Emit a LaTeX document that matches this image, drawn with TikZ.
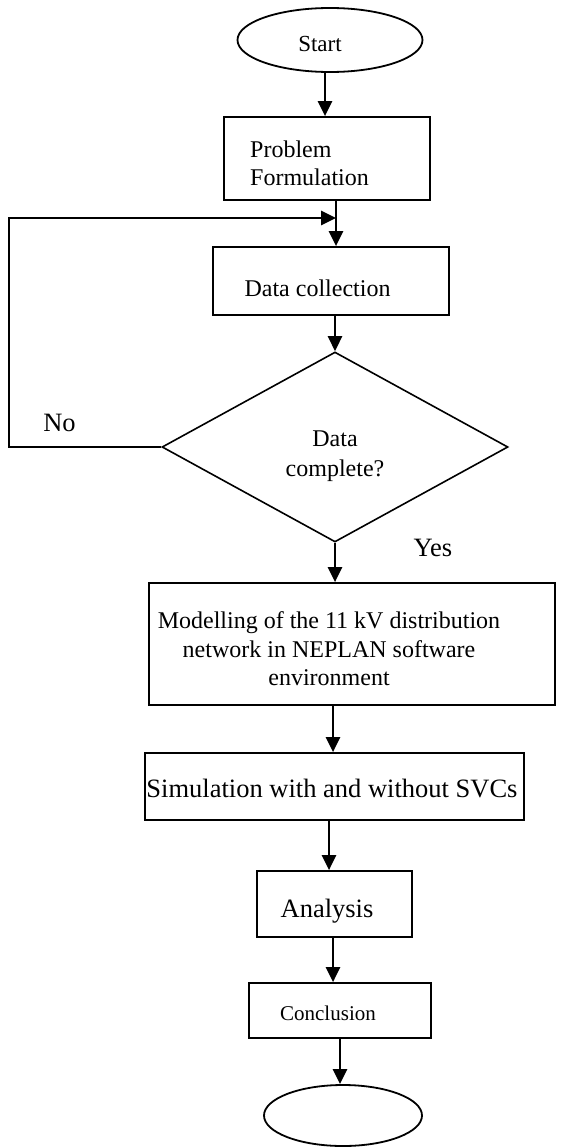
\documentclass[tikz,border=0pt]{standalone}
\usepackage{fontspec}
\setmainfont{Liberation Serif}
\usetikzlibrary{arrows.meta,shapes.geometric}
\tikzset{
  boxshape/.style={draw, line width=1.7pt, rectangle, inner sep=0pt},
  ovalshape/.style={draw, line width=1.8pt, ellipse, inner sep=0pt},
  diashape/.style={draw, line width=1.6pt, diamond, inner sep=0pt},
  txt/.style={anchor=base, inner sep=0pt},
  fa/.style={font=\fontsize{24}{28}\selectfont},
  fb/.style={font=\fontsize{26.5}{30}\selectfont},
  fc/.style={font=\fontsize{21}{25}\selectfont},
  fs/.style={font=\fontsize{23}{27}\selectfont},
  arr/.style={line width=2.6pt, -{Triangle[length=15pt,width=14pt]}},
  loopline/.style={line width=2.6pt, -{Triangle[length=15pt,width=14pt]}}
}
\begin{document}
\begin{tikzpicture}[x=1pt,y=-1pt]
\useasboundingbox (0,0) rectangle (560,1148);
% shapes
\node[ovalshape, minimum width=185pt, minimum height=64pt] (start) at (330,40) {};
\node[boxshape, minimum width=206pt, minimum height=83pt] (prob) at (327,158.5) {};
\node[boxshape, minimum width=236pt, minimum height=68pt] (dc) at (331,281) {};
\node[diashape, minimum width=346pt, minimum height=190pt] (dia) at (335,447) {};
\node[boxshape, minimum width=406pt, minimum height=122pt] (mod) at (352,644) {};
\node[boxshape, minimum width=379pt, minimum height=67pt] (sim) at (334.5,786.5) {};
\node[boxshape, minimum width=155pt, minimum height=66pt] (ana) at (334.5,904) {};
\node[boxshape, minimum width=182pt, minimum height=55pt] (con) at (340,1010.5) {};
\node[ovalshape, minimum width=158pt, minimum height=61pt] (stop) at (343,1115.5) {};
% texts
\node[txt, fs] (tstart) at (320,52) {Start};
\node[txt, fa, anchor=base west] (tprob1) at (250,157) {Problem};
\node[txt, fa, anchor=base west] (tprob2) at (250,185) {Formulation};
\node[txt, fa] (tdc) at (317.5,296) {Data collection};
\node[txt, fa] (tdia1) at (335,446) {Data};
\node[txt, fa] (tdia2) at (335,476) {complete?};
\node[txt, fb] (tno) at (59.5,431) {No};
\node[txt, fb] (tyes) at (433,556) {Yes};
\node[txt, fa] (tmod1) at (329,628) {Modelling of the 11 kV distribution};
\node[txt, fa] (tmod2) at (329,657) {network in NEPLAN software};
\node[txt, fa] (tmod3) at (329,685) {environment};
\node[txt, fb] (tsim) at (332,797) {Simulation with and without SVCs};
\node[txt, fb] (tana) at (327,917) {Analysis};
\node[txt, fc] (tcon) at (328,1020) {Conclusion};
% connectors
\coordinate (c1) at (325,0);
\draw[arr] (start.south -| c1) -- (prob.north -| c1);
\coordinate (c2) at (336,0);
\draw[arr] (prob.south -| c2) -- (dc.north -| c2);
\coordinate (lb) at (9,447);
\coordinate (lt) at (9,218);
\coordinate (join) at (336,218);
\draw[loopline] (dia.west) -- (lb) -- (lt) -- (join);
\draw[arr] (dc.south -| dia.north) -- (dia.north);
\draw[arr] (dia.south) -- (mod.north -| dia.south);
\coordinate (c3) at (333,0);
\draw[arr] (mod.south -| c3) -- (sim.north -| c3);
\coordinate (c4) at (329,0);
\draw[arr] (sim.south -| c4) -- (ana.north -| c4);
\coordinate (c5) at (333,0);
\draw[arr] (ana.south -| c5) -- (con.north -| c5);
\draw[arr] (con.south) -- (stop.north -| con.south);
\end{tikzpicture}
\end{document}
